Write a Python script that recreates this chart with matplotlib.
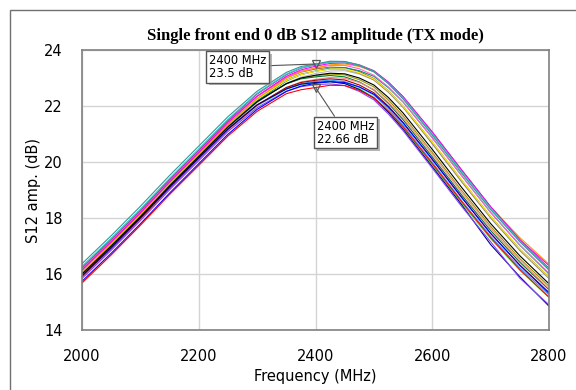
import matplotlib
matplotlib.use("Agg")
import matplotlib.pyplot as plt
import matplotlib.patheffects as pe
from matplotlib.patches import Rectangle

# frequency points (MHz), denser around the peak
freq = [2000, 2050, 2100, 2150, 2200, 2250, 2300, 2350, 2375, 2400, 2425,
        2450, 2475, 2500, 2525, 2550, 2600, 2650, 2700, 2750, 2800]

# S12 amplitude traces (dB), one per front end
s12_red = [15.68, 16.68, 17.74, 18.84, 19.88, 20.93, 21.81, 22.44, 22.58, 22.66, 22.74, 22.73, 22.56, 22.29, 21.82, 21.26, 19.94, 18.59, 17.30, 16.16, 15.17]
s12_blue = [15.74, 16.74, 17.79, 18.89, 19.94, 20.99, 21.88, 22.52, 22.71, 22.81, 22.87, 22.84, 22.68, 22.42, 21.96, 21.40, 20.10, 18.75, 17.45, 16.31, 15.31]
s12_magenta = [16.15, 17.15, 18.19, 19.29, 20.34, 21.41, 22.35, 23.06, 23.29, 23.42, 23.52, 23.54, 23.44, 23.24, 22.84, 22.33, 21.07, 19.72, 18.40, 17.22, 16.30]
s12_lime = [15.90, 16.91, 17.97, 19.07, 20.11, 21.15, 22.01, 22.60, 22.77, 22.84, 22.87, 22.81, 22.61, 22.31, 21.81, 21.22, 19.89, 18.53, 17.26, 16.13, 15.16]
s12_cyan = [16.28, 17.28, 18.32, 19.42, 20.47, 21.53, 22.46, 23.14, 23.36, 23.48, 23.57, 23.57, 23.45, 23.23, 22.81, 22.29, 21.01, 19.66, 18.35, 17.18, 16.16]
s12_yellow = [16.07, 17.07, 18.11, 19.21, 20.27, 21.32, 22.24, 22.91, 23.12, 23.24, 23.32, 23.32, 23.19, 22.96, 22.53, 21.99, 20.71, 19.36, 18.05, 16.89, 15.88]
s12_black = [16.00, 17.00, 18.05, 19.15, 20.20, 21.25, 22.15, 22.80, 23.00, 23.10, 23.17, 23.15, 23.00, 22.75, 22.30, 21.75, 20.45, 19.10, 17.80, 16.65, 15.65]
s12_gray = [16.11, 17.11, 18.16, 19.26, 20.31, 21.36, 22.27, 22.93, 23.14, 23.24, 23.32, 23.31, 23.17, 22.93, 22.49, 21.95, 20.65, 19.30, 18.00, 16.84, 15.84]
s12_purple = [16.24, 17.24, 18.28, 19.38, 20.43, 21.49, 22.43, 23.12, 23.35, 23.47, 23.57, 23.58, 23.47, 23.26, 22.85, 22.33, 21.06, 19.72, 18.40, 17.23, 16.20]
s12_teal = [16.37, 17.37, 18.42, 19.52, 20.57, 21.62, 22.53, 23.20, 23.41, 23.50, 23.60, 23.59, 23.46, 23.22, 22.79, 22.25, 20.96, 19.61, 18.30, 17.15, 16.14]
s12_darkred = [15.92, 16.92, 17.98, 19.08, 20.13, 21.17, 22.04, 22.66, 22.84, 22.92, 22.97, 22.93, 22.75, 22.47, 21.99, 21.41, 20.09, 18.74, 17.45, 16.32, 15.34]
s12_navy = [15.94, 16.95, 18.01, 19.11, 20.15, 21.18, 22.04, 22.61, 22.78, 22.84, 22.87, 22.80, 22.59, 22.28, 21.77, 21.17, 19.83, 18.48, 17.05, 15.90, 14.85]
s12_orange = [16.06, 17.05, 18.09, 19.19, 20.25, 21.32, 22.26, 22.99, 23.22, 23.36, 23.47, 23.50, 23.41, 23.22, 22.83, 22.33, 21.07, 19.72, 18.39, 17.30, 16.35]
s12_pink = [16.18, 17.18, 18.22, 19.32, 20.38, 21.43, 22.35, 23.03, 23.25, 23.36, 23.45, 23.45, 23.33, 23.10, 22.68, 22.15, 20.86, 19.52, 18.20, 17.04, 16.03]
s12_olive = [16.03, 17.03, 18.09, 19.19, 20.23, 21.28, 22.17, 22.80, 22.99, 23.08, 23.14, 23.11, 22.94, 22.68, 22.21, 21.65, 20.34, 18.99, 17.70, 16.55, 15.56]
s12_silver = [15.94, 16.94, 17.98, 19.08, 20.13, 21.19, 22.12, 22.81, 23.03, 23.16, 23.25, 23.26, 23.14, 22.93, 22.51, 21.99, 20.72, 19.37, 18.05, 16.88, 15.86]
s12_darkgreen = [16.06, 17.06, 18.12, 19.22, 20.27, 21.31, 22.18, 22.79, 22.97, 23.04, 23.09, 23.04, 22.86, 22.57, 22.09, 21.51, 20.18, 18.83, 17.55, 16.42, 15.44]
s12_skyblue = [15.91, 16.91, 17.97, 19.07, 20.12, 21.16, 22.02, 22.63, 22.80, 22.88, 22.92, 22.87, 22.68, 22.39, 21.90, 21.32, 19.99, 18.63, 17.35, 16.22, 15.25]
s12_brown = [16.20, 17.20, 18.25, 19.35, 20.40, 21.45, 22.35, 23.01, 23.21, 23.32, 23.39, 23.37, 23.23, 22.98, 22.54, 21.99, 20.70, 19.35, 18.05, 16.89, 15.89]
s12_violet = [15.84, 16.85, 17.91, 19.01, 20.05, 21.09, 21.94, 22.53, 22.69, 22.76, 22.79, 22.73, 22.52, 22.22, 21.71, 21.12, 19.78, 18.42, 17.15, 15.85, 14.90]
s12_darkcyan = [16.00, 17.00, 18.04, 19.14, 20.19, 21.25, 22.19, 22.89, 23.12, 23.25, 23.35, 23.37, 23.26, 23.06, 22.65, 22.14, 20.87, 19.52, 18.20, 17.03, 16.00]
s12_salmon = [15.87, 16.87, 17.92, 19.02, 20.07, 21.12, 22.02, 22.66, 22.86, 22.95, 23.02, 22.99, 22.84, 22.59, 22.13, 21.58, 20.27, 18.92, 17.63, 16.48, 15.48]

traces = [
    (s12_lime, "#33ee33"), (s12_skyblue, "#3399ff"), (s12_olive, "#999900"),
    (s12_silver, "#bbbbbb"), (s12_darkgreen, "#007a33"), (s12_brown, "#aa6633"),
    (s12_salmon, "#ff8888"), (s12_darkcyan, "#008b8b"), (s12_gray, "#888888"),
    (s12_yellow, "#ffee00"), (s12_pink, "#ff66cc"), (s12_orange, "#ff9900"),
    (s12_darkred, "#aa0000"), (s12_navy, "#000088"), (s12_violet, "#8844ff"),
    (s12_purple, "#884499"), (s12_magenta, "#ff00ff"), (s12_cyan, "#33cccc"),
    (s12_teal, "#339999"), (s12_black, "#000000"), (s12_blue, "#0000ff"),
    (s12_red, "#ff0000"),
]

# marker readouts
mark_freq = 2400
mark_hi = 23.5
mark_lo = 22.66

fig = plt.figure(figsize=(5.76, 3.9), dpi=100)
ax = fig.add_axes([0.1424, 0.1538, 0.8108, 0.718])

for vals, col in traces:
    ax.plot(freq, vals, color=col, lw=0.8)

ax.set_xlim(2000, 2800)
ax.set_ylim(14, 24)
ax.set_xticks([2000, 2200, 2400, 2600, 2800])
ax.set_yticks([14, 16, 18, 20, 22, 24])
ax.grid(True, color="#d4d4d4", lw=1)
ax.set_axisbelow(True)
ax.tick_params(length=0, labelsize=10.5)
ax.tick_params(axis="x", pad=14)
ax.tick_params(axis="y", pad=14)
for s in ax.spines.values():
    s.set_color("#808080")
    s.set_linewidth(1.2)

ax.set_title("Single front end 0 dB S12 amplitude (TX mode)", family="Liberation Serif",
             fontweight="bold", fontsize=12, pad=7)
ax.set_xlabel("Frequency (MHz)", fontsize=10.5, labelpad=3)
ax.set_ylabel("S12 amp. (dB)", fontsize=10.5, labelpad=2)

# marker triangles and readout boxes
ax.plot([mark_freq], [mark_hi], marker="v", ms=6, mfc="none", mec="#555555", mew=0.9)
ax.plot([mark_freq], [mark_lo], marker="v", ms=6, mfc="none", mec="#555555", mew=0.9)
box = dict(boxstyle="square,pad=0.25", fc="white", ec="#555555", lw=1)
line = dict(arrowstyle="-", color="#555555", lw=0.8, shrinkA=0, shrinkB=0)
t1 = ax.annotate(f"{mark_freq} MHz\n{mark_hi} dB", xy=(mark_freq, mark_hi), xytext=(2218, 23.4),
                 fontsize=8.3, va="center", ha="left", bbox=box, linespacing=1.0, arrowprops=line)
t2 = ax.annotate(f"{mark_freq} MHz\n{mark_lo} dB", xy=(mark_freq, mark_lo), xytext=(2402, 21.05),
                 fontsize=8.3, va="center", ha="left", bbox=box, linespacing=1.0, arrowprops=line)
for t in (t1, t2):
    t.get_bbox_patch().set_path_effects([pe.withSimplePatchShadow(offset=(2, -2), shadow_rgbFace="#999999", alpha=0.7)])

# outer frame of the graph window
fig.patches.append(Rectangle((10 / 576, -0.1), 1.2, 1.1 - 10 / 390, transform=fig.transFigure,
                             fill=False, ec="#707070", lw=1.0))

fig.savefig("out.png", dpi=100)
